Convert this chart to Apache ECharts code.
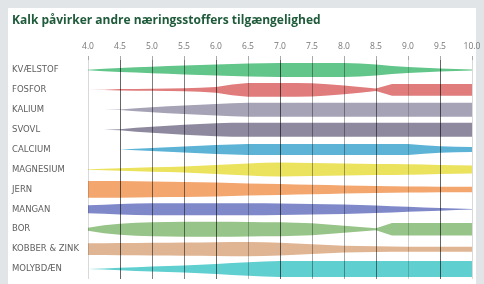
<!DOCTYPE html>
<html>
<head>
<meta charset="utf-8">
<script src="https://cdn.jsdelivr.net/npm/echarts@6/dist/echarts.min.js"></script>
<style>
  html, body { margin: 0; padding: 0; background: #e2e5e7; }
  #panel { position: absolute; left: 8px; top: 8px; width: 468px; height: 276px; background: #fff; }
  #chart { position: absolute; left: 0; top: 0; width: 484px; height: 284px; }
</style>
</head>
<body>
<div id="panel"></div>
<div id="chart"></div>
<script>
// pH steps along the x axis
var phSteps = [4.0, 4.25, 4.5, 4.75, 5.0, 5.25, 5.5, 5.75, 6.0, 6.25, 6.5, 6.75, 7.0,
               7.25, 7.5, 7.75, 8.0, 8.25, 8.5, 8.75, 9.0, 9.25, 9.5, 9.75, 10.0];

var nutrients = ['KVÆLSTOF', 'FOSFOR', 'KALIUM', 'SVOVL', 'CALCIUM', 'MAGNESIUM',
                 'JERN', 'MANGAN', 'BOR', 'KOBBER & ZINK', 'MOLYBDÆN'];

// availability (band thickness, 0..20) at each pH step
var kvaelstof = [0.5, 2.5, 4, 5.2, 6.5, 7.8, 9, 10, 11, 12, 13, 13.5, 14, 14, 14, 14, 14, 13, 11, 8, 6, 4.5, 3, 2, 1];
var fosfor    = [0, 0.3, 1.5, 1.8, 2, 2.5, 3, 4, 6, 11, 14, 14, 14, 14, 13.5, 11.5, 9, 6, 2.5, 12, 12, 12, 12, 12, 12];
var kalium    = [0, 0, 0.5, 3, 5, 7, 8.5, 10, 11.5, 13, 14, 14, 14, 14, 14, 14, 14, 14, 14, 14, 14, 14, 14, 14, 14];
var svovl     = [0, 0, 1, 4, 6, 8, 10, 11.5, 13, 14, 14, 14, 14, 14, 14, 14, 14, 14, 14, 14, 14, 14, 14, 14, 14];
var calcium   = [0, 0, 0, 1.5, 3, 4.5, 6, 7.5, 9, 10, 11, 11, 11, 11, 11, 11, 11, 11, 11, 11, 11, 8.5, 6.5, 5.5, 5];
var magnesium = [0.5, 1.5, 2.5, 3.5, 4.5, 5.2, 6, 7.5, 9, 10.5, 12, 13.5, 14, 13.5, 13, 12.5, 12, 11.5, 11, 11, 10.5, 10, 9, 8.5, 8];
var jern      = [17, 17, 17, 16.5, 16, 15.5, 15, 14.5, 14, 13, 12, 11.5, 11, 10, 9.5, 9, 8, 7.5, 7, 6.5, 6, 6, 5.5, 5.5, 5.5];
var mangan    = [8, 9, 10.5, 11.5, 12, 12, 12, 12, 12, 12, 12, 12, 11.5, 11, 10.5, 10, 9.5, 8.5, 7.5, 6.3, 5, 3.8, 2.7, 1.5, 0.5];
var bor       = [3, 8, 11, 13, 14, 14.5, 15, 15, 15, 15, 14.5, 14, 14, 13, 12, 9.5, 7, 4.5, 2, 12.5, 12.5, 12.5, 12.5, 12.5, 12.5];
var kobber    = [12, 12, 12.5, 12.5, 13, 13, 13.5, 13.5, 14, 14.5, 14.5, 14, 13, 11.5, 10, 8.5, 7, 6.3, 5.7, 5.3, 5, 5, 5, 5, 5];
var molybdaen = [0, 1, 2.5, 3.8, 5, 6, 7, 8.5, 10, 12, 13.5, 15, 16, 16, 16, 16, 16, 16, 16, 16, 16, 16, 16, 16, 16];

var rows = [kvaelstof, fosfor, kalium, svovl, calcium, magnesium, jern, mangan, bor, kobber, molybdaen];

var colors = ['#62c68a', '#e07c7c', '#a6a3b7', '#8f899f', '#5cb3d6', '#ebe25e',
              '#f4a66f', '#7f89c9', '#97c488', '#e0b594', '#60cfd0'];

// grid line shades, one per tick
var lineShades = ['rgba(0,0,0,0.15)', 'rgba(0,0,0,0.6)', 'rgba(0,0,0,0.5)', 'rgba(0,0,0,0.5)',
                  'rgba(0,0,0,0.6)', 'rgba(0,0,0,0.25)', 'rgba(0,0,0,0.6)', 'rgba(0,0,0,0.35)',
                  'rgba(0,0,0,0.35)', 'rgba(0,0,0,0.5)', 'rgba(0,0,0,0.18)', 'rgba(0,0,0,0.6)',
                  'rgba(0,0,0,0.15)'];

var myChart = echarts.init(document.getElementById('chart'));

function renderBand(params, api) {
    var r = api.value(0);
    var w = rows[r];
    var band = api.size([0, 1])[1];
    var top = [], bottom = [];
    for (var j = 0; j < phSteps.length; j++) {
        var c = api.coord([phSteps[j], r]);
        var h = w[j] / 20 * band / 2;
        top.push([c[0], c[1] - h]);
        bottom.unshift([c[0], c[1] + h]);
    }
    return {
        type: 'polygon',
        shape: { points: top.concat(bottom) },
        style: { fill: colors[r] }
    };
}

var option = {
    animation: false,
    title: {
        text: 'Kalk påvirker andre næringsstoffers tilgængelighed',
        left: 7,
        top: 10,
        textStyle: { fontFamily: 'Open Sans', fontWeight: 'bold', fontSize: 12, color: '#1f5b3a' }
    },
    grid: { left: 88, right: 12, top: 60, bottom: 5 },
    xAxis: {
        type: 'value',
        position: 'top',
        min: 4,
        max: 10,
        interval: 0.5,
        z: 10,
        axisLine: { show: false },
        axisTick: { show: true, length: 4, lineStyle: { color: '#aaa' } },
        axisLabel: {
            margin: 9,
            fontFamily: 'Open Sans',
            fontSize: 8.5,
            color: '#777',
            formatter: function (v) { return v.toFixed(1); }
        },
        splitLine: { show: true, lineStyle: { color: lineShades, width: 1 } }
    },
    yAxis: {
        type: 'category',
        inverse: true,
        data: nutrients,
        axisLine: { show: false },
        axisTick: { show: false },
        splitLine: { show: false },
        axisLabel: {
            align: 'left',
            margin: 76,
            fontFamily: 'DejaVu Sans',
            fontSize: 8.5,
            color: '#606060'
        }
    },
    series: [{
        type: 'custom',
        renderItem: renderBand,
        data: nutrients.map(function (n, i) { return [i]; }),
        encode: { y: 0 }
    }]
};

myChart.setOption(option);
</script>
</body>
</html>
